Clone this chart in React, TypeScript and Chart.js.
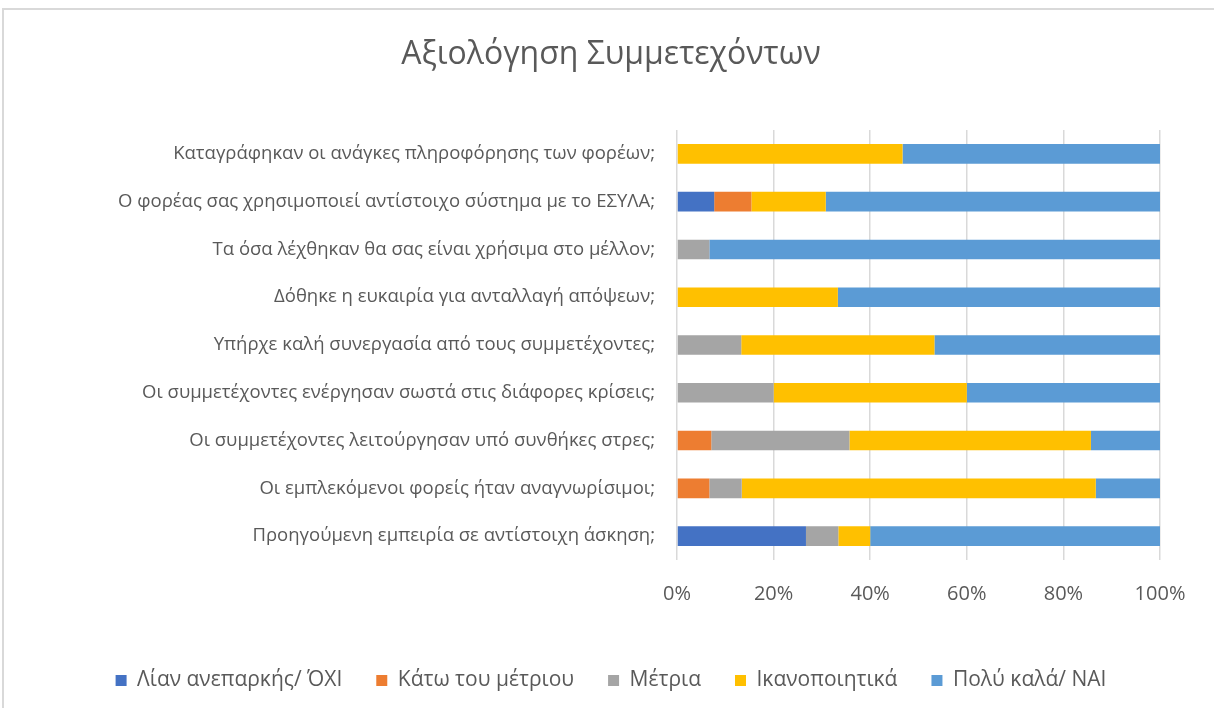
import React, { useEffect, useRef } from "react";
import { Chart, registerables } from "chart.js";
Chart.register(...registerables);

const categories = [
  "Καταγράφηκαν οι ανάγκες πληροφόρησης των φορέων;",
  "Ο φορέας σας χρησιμοποιεί αντίστοιχο σύστημα με το ΕΣΥΛΑ;",
  "Τα όσα λέχθηκαν θα σας είναι χρήσιμα στο μέλλον;",
  "Δόθηκε η ευκαιρία για ανταλλαγή απόψεων;",
  "Υπήρχε καλή συνεργασία από τους συμμετέχοντες;",
  "Οι συμμετέχοντες ενέργησαν σωστά στις διάφορες κρίσεις;",
  "Οι συμμετέχοντες λειτούργησαν υπό συνθήκες στρες;",
  "Οι εμπλεκόμενοι φορείς ήταν αναγνωρίσιμοι;",
  "Προηγούμενη εμπειρία σε αντίστοιχη άσκηση;",
];

const seriesNames = [
  "Λίαν ανεπαρκής/ ΌΧΙ",
  "Κάτω του μέτριου",
  "Μέτρια",
  "Ικανοποιητικά",
  "Πολύ καλά/ ΝΑΙ",
];

const lianAneparkis = [0, 7.7, 0, 0, 0, 0, 0, 0, 26.7];
const katoMetriou = [0, 7.7, 0, 0, 0, 0, 7.1, 6.7, 0];
const metria = [0, 0, 6.7, 0, 13.3, 20, 28.6, 6.7, 6.7];
const ikanopoiitika = [46.7, 15.4, 0, 33.3, 40, 40, 50, 73.3, 6.6];
const polyKala = [53.3, 69.2, 93.3, 66.7, 46.7, 40, 14.3, 13.3, 60];

const colors = ["#4472C4", "#ED7D31", "#A5A5A5", "#FFC000", "#5B9BD5"];
const xTicks = [0, 20, 40, 60, 80, 100];

const FONT = "'Open Sans', 'DejaVu Sans', sans-serif";
const TEXT = "#595959";

export default function App() {
  const ref = useRef<HTMLCanvasElement | null>(null);
  useEffect(() => {
    if (!ref.current) return;
    const values = [lianAneparkis, katoMetriou, metria, ikanopoiitika, polyKala];
    const chart = new Chart(ref.current, {
      type: "bar",
      data: {
        labels: categories,
        datasets: seriesNames.map((name, i) => ({
          label: name,
          data: values[i],
          backgroundColor: colors[i],
          borderWidth: 0,
          categoryPercentage: 1,
          barPercentage: 0.41,
        })),
      },
      options: {
        indexAxis: "y",
        animation: false,
        responsive: false,
        maintainAspectRatio: false,
        layout: { padding: { left: 62, right: 54, top: 0, bottom: 7 } },
        plugins: {
          title: {
            display: true,
            text: "Αξιολόγηση Συμμετεχόντων",
            color: TEXT,
            font: { family: FONT, size: 32, weight: "normal", lineHeight: 1.2 },
            padding: { top: 35.8, bottom: 55.8 },
          },
          legend: {
            position: "bottom",
            labels: {
              color: TEXT,
              font: { family: FONT, size: 21 },
              boxWidth: 11,
              boxHeight: 11,
              padding: 34,
            },
          },
          tooltip: { enabled: false },
        },
        scales: {
          x: {
            stacked: true,
            min: 0,
            max: 100,
            afterBuildTicks: (s: any) => {
              s.ticks = xTicks.map((v) => ({ value: v }));
            },
            afterFit: (s: any) => {
              s.height = 76;
            },
            grid: { color: "#D9D9D9", lineWidth: 1.5, drawTicks: false },
            border: { display: false },
            ticks: {
              color: TEXT,
              font: { family: FONT, size: 20 },
              padding: 22,
              callback: (v: any) => v + "%",
            },
          },
          y: {
            stacked: true,
            afterFit: (s: any) => {
              s.width = 615;
            },
            grid: { display: false, drawTicks: false },
            border: { display: false },
            ticks: {
              color: TEXT,
              font: { family: FONT, size: 18.5 },
              padding: 22,
              autoSkip: false,
            },
          },
        },
      },
    });
    return () => chart.destroy();
  }, []);

  return (
    <div style={{ position: "fixed", left: 0, top: 0, width: 1214, height: 708, background: "#fff", overflow: "hidden" }}>
      <div
        style={{
          position: "absolute",
          left: 2,
          top: 8,
          width: 1230,
          height: 720,
          border: "2px solid #D9D9D9",
          boxSizing: "border-box",
        }}
      />
      <canvas ref={ref} width={1214} height={708} style={{ position: "absolute", left: 0, top: 0 }} />
    </div>
  );
}
